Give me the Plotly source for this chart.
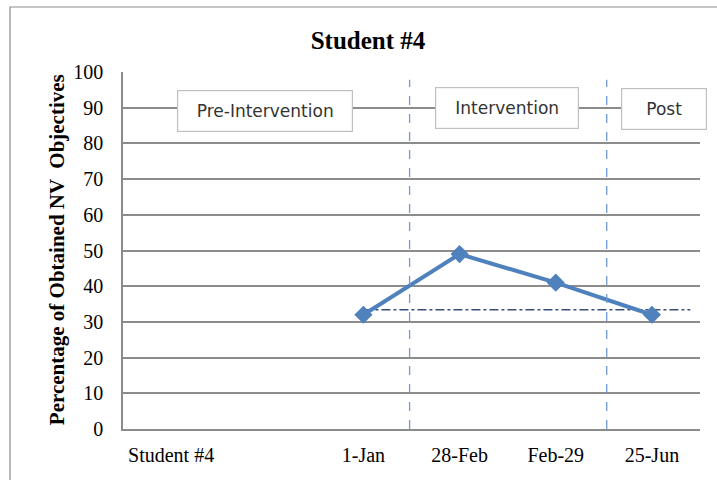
import plotly.graph_objects as go

# Session categories along the x axis (second slot intentionally blank)
categories = ["Student #4", "", "1-Jan", "28-Feb", "Feb-29", "25-Jun"]
# Percentage of obtained NV objectives per session (None = no session)
scores = [None, None, 32, 49, 41, 32]
# Level line across the sessions
level_value = 33.4
# Phase labels and their phase boundary positions
phase_labels = ["Pre-Intervention", "Intervention", "Post"]
phase_boundaries = [2.48, 4.53]
y_ticks = list(range(0, 101, 10))

x_idx = list(range(len(categories)))
BLUE = "#4F81BD"
GRID = "#8C8C8C"
SERIF = "Liberation Serif, Times New Roman, serif"
SANS = "DejaVu Sans, sans-serif"

fig = go.Figure()

# level line (dash-dot)
fig.add_trace(go.Scatter(
    x=[x_idx[2], 5.4], y=[level_value, level_value],
    mode="lines", line=dict(color="#3A4F7A", width=1.5, dash="dashdot"),
    hoverinfo="skip", showlegend=False,
))

# score series
fig.add_trace(go.Scatter(
    x=x_idx, y=scores, mode="lines+markers",
    line=dict(color=BLUE, width=4),
    marker=dict(symbol="diamond", size=14, color=BLUE),
    showlegend=False,
))

shapes = []
# phase boundaries
for xb in phase_boundaries:
    shapes.append(dict(type="line", xref="x", yref="y", x0=xb, x1=xb, y0=0, y1=97.8,
                       line=dict(color="#6F9BD1", width=1.3, dash="dash"), layer="above"))
# outer chart frame
shapes.append(dict(type="rect", xref="paper", yref="paper",
                   x0=(10 - 123) / 577, x1=(730 - 123) / 577,
                   y0=-0.3, y1=1 + (72 - 7) / 357,
                   line=dict(color="#8C8C8C", width=1.2), fillcolor="rgba(0,0,0,0)"))

annotations = []
# phase label boxes
phase_pos = [(0.977, 89.2, 170), (3.49, 90.0, 138), (5.13, 89.7, 80)]
for label, (px, py, w) in zip(phase_labels, phase_pos):
    annotations.append(dict(
        x=px, y=py, xref="x", yref="y", text=label, showarrow=False,
        font=dict(family=SANS, size=17, color="#333333"),
        bgcolor="white", bordercolor="#BFBFBF", borderwidth=1.2, borderpad=2,
        width=w, height=36,
    ))
# y axis title
annotations.append(dict(
    x=(57 - 123) / 577, y=0.501, xref="paper", yref="paper",
    xanchor="center", yanchor="middle",
    text="<b>Percentage of Obtained NV  Objectives</b>", textangle=-90,
    showarrow=False, font=dict(family=SERIF, size=21, color="black"),
))

fig.update_layout(
    width=717, height=480,
    margin=dict(l=123, r=17, t=72, b=51),
    paper_bgcolor="white", plot_bgcolor="white",
    title=dict(text="<b>Student #4</b>", x=368 / 717, xanchor="center",
               y=1 - 40 / 480, yanchor="middle",
               font=dict(family=SERIF, size=25, color="black")),
    shapes=shapes, annotations=annotations,
)

fig.update_xaxes(
    range=[-0.5, 5.5], tickmode="array", tickvals=x_idx, ticktext=categories,
    showgrid=False, zeroline=False, showline=True, linecolor=GRID, linewidth=1.5,
    ticks="", ticklabelstandoff=7,
    tickfont=dict(family=SERIF, size=20, color="black"),
)
fig.update_yaxes(
    range=[0, 100], tickmode="array", tickvals=y_ticks,
    showgrid=True, gridcolor=GRID, gridwidth=1.5, zeroline=False,
    showline=True, linecolor=GRID, linewidth=1.5, ticks="", ticklabelstandoff=14,
    tickfont=dict(family=SERIF, size=20, color="black"),
)

fig.write_html("out.html")
